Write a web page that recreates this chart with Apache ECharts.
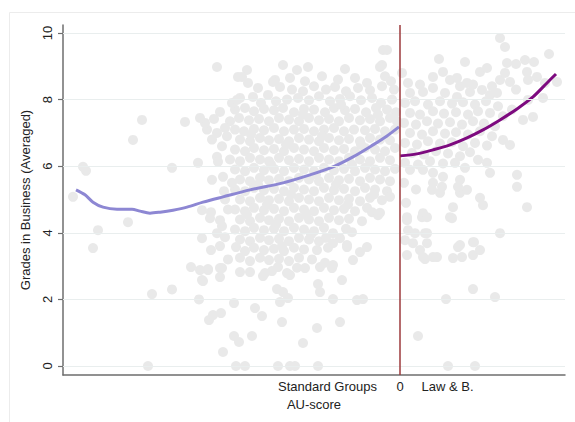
<!DOCTYPE html>
<html>
<head>
<meta charset="utf-8">
<script src="https://cdn.jsdelivr.net/npm/echarts@6/dist/echarts.min.js"></script>
<style>
html,body{margin:0;padding:0;background:#fff;}
#c{width:575px;height:422px;}
</style>
</head>
<body>
<div id="c"></div>
<script>
// ---- data ----
var yTicks = [0, 2, 4, 6, 8, 10];
var xLabelText = ['Standard Groups', '0', 'Law & B.'];
var xLabelPos = [-7.25, 0, 4.75];
var cutoff = 0;

var leftFitX = [-32.4,-31.5,-30.7,-29.7,-28.3,-26.8,-26.0,-25.0,-24.0,-22.7,-21.3,-19.7,-17.7,-15.0,-11.7,-9.0,-6.7,-4.7,-2.7,-1.3,-0.1];
var leftFitY = [5.29,5.14,4.92,4.77,4.71,4.71,4.65,4.59,4.62,4.68,4.77,4.92,5.08,5.29,5.50,5.74,5.98,6.28,6.64,6.91,7.18];
var rightFitX = [0,1.7,3.3,5.0,6.7,8.3,10.0,11.7,13.3,14.7,15.6];
var rightFitY = [6.31,6.37,6.49,6.64,6.85,7.09,7.39,7.72,8.08,8.50,8.77];

// scattered observations, standard groups (AU-score < 0)
var leftOuter = [
[-32.7,5.08],[-31.7,5.98],[-31.4,5.86],[-30.2,4.08],[-30.7,3.54],[-27.2,4.32],[-26.7,6.79],[-25.8,7.39],
[-25.2,0],[-24.8,2.16],[-22.8,2.3],[-22.8,5.95],[-21.5,7.33],[-20.2,6.1],[-20.9,2.97],[-20.1,2.0],
[-18.3,8.98],[-15.3,8.89],[-11.7,9.04],[-10.3,8.89],[-9.2,8.98],[-5.5,8.92],[-1.7,9.49],[-1.3,9.49],[-1.8,9.04],[-2,8.98],
[-15.8,8.68],[-15.2,8.5],[-12.7,8.53],[-16.3,7.99],[-16.2,8.68],[-14.2,8.35],[-12,8.38],
[-19.1,1.38],[-18.7,1.53],[-17.9,1.59],[-17.7,0.42],[-16.6,0.9],[-16.1,0.72],[-14.8,0.9],[-16.6,1.89],[-16.4,0],[-15.5,0],
[-14.5,1.74],[-13.8,1.5],[-11.8,1.32],[-12.2,0],[-11,0],[-10.5,0],[-8.2,0],[-9.7,0.69],[-8.3,1.14],[-6,1.32],
[-12.3,2.31],[-11.7,2.22],[-11.2,2.04],[-12,1.92],[-6.7,2.01],[-4.3,1.98],[-3.7,2.01],[-8.2,2.46],[-8,2.22],[-5.8,2.58],
[-20,2.88],[-19.8,2.58],[-19.2,2.88],[-18,2.94],[-18,2.67],[-16,2.82],[-15,2.82],[-13.5,2.79],[-12.2,2.97],[-11,2.73],
[-11.3,2.79],[-9.5,2.94],[-8,2.97],[-6.8,2.94],[-8.3,3.48],[-6.7,3.69],[-5.3,3.63],[-4.7,3.18],[-4,3.42],[-3.3,3.57],
[-6,3.84],[-5.3,3.57],[-6.7,3.03],[-4.8,4.02],[-6.7,3.99],[-2.8,4.62],[-2.2,4.53],[-1,5.08],[-19.8,3.84],[-18.9,3.48],[-18,3.6],
[-19.5,7.3],[-18,7.63],[-18.6,7.42],[-20,7.45],[-18.3,6.28],[-18.2,6.13],[-18.8,5.59],[-17.7,5.68],[-16.8,5.5],
[-19.8,4.68],[-18.9,4.62],[-19,4.44],[-18,4.38],[-18.3,3.99],[-17.5,3.87],[-16.4,3.57],[-19.2,2.91],[-17.8,2.94],[-19.7,2.55]
];

// dense body of standard groups
var leftCore = [
[-12.5,8.59],[-11,8.65],[-9.5,8.55],[-7.8,8.7],[-6.2,8.6],[-4.5,8.65],[-3.3,8.5],[-1.5,8.7],
[-10.8,8.3],[-9.7,8.25],[-8.6,8.4],[-7.4,8.3],[-6.5,8.38],[-5.4,8.25],[-4.2,8.35],[-3,8.28],[-1.8,8.4],[-0.6,8.3],
[-16,8.05],[-14.7,8.08],[-13.2,8.14],[-12.4,7.95],[-11.3,8.0],[-10.2,8.05],[-9.1,7.98],[-8.1,8.1],[-7.0,7.95],[-6.0,8.02],[-5.0,8.1],[-3.9,7.98],[-2.8,8.05],[-1.9,7.9],[-0.8,8.0],
[-16.5,7.7],[-15.5,7.75],[-14.6,7.65],[-13.6,7.72],[-12.6,7.68],[-11.7,7.75],[-10.6,7.62],[-9.6,7.72],[-8.6,7.7],[-7.5,7.62],[-6.6,7.75],[-5.5,7.68],[-4.5,7.72],[-3.4,7.62],[-2.4,7.75],[-1.3,7.7],[-0.4,7.62],
[-17.0,7.35],[-16.1,7.45],[-15.1,7.38],[-14.1,7.42],[-13.1,7.35],[-12.1,7.45],[-11.1,7.4],[-10.1,7.35],[-9.1,7.45],[-8.1,7.38],[-7.1,7.42],[-6.1,7.35],[-5.1,7.45],[-4.0,7.38],[-3.0,7.42],[-2.0,7.35],[-1.0,7.45],
[-19.3,7.1],[-18.3,7.0],[-17.5,7.15],[-16.5,7.1],[-15.6,7.05],[-14.6,7.12],[-13.6,7.08],[-12.6,7.15],[-11.6,7.05],[-10.6,7.1],[-9.6,7.12],[-8.6,7.05],[-7.6,7.1],[-6.6,7.15],[-5.6,7.05],[-4.6,7.1],[-3.5,7.08],[-2.5,7.12],[-1.5,7.05],[-0.5,7.1],
[-18.8,6.8],[-17.3,6.9],[-17.8,6.6],[-16.0,6.8],[-15.0,6.75],[-14.0,6.85],[-13.1,6.78],[-12.1,6.82],[-11.1,6.75],[-10.1,6.85],[-9.1,6.8],[-8.1,6.75],[-7.1,6.85],[-6.1,6.78],[-5.1,6.82],[-4.0,6.75],[-3.0,6.85],[-2.0,6.8],[-1.0,6.78],
[-16.5,6.5],[-15.5,6.45],[-14.6,6.55],[-13.6,6.48],[-12.6,6.52],[-11.6,6.45],[-10.6,6.55],[-9.6,6.5],[-8.6,6.45],[-7.6,6.55],[-6.6,6.48],[-5.6,6.52],[-4.5,6.45],[-3.5,6.55],[-2.5,6.5],[-1.5,6.45],[-0.5,6.55],
[-17,6.2],[-16.0,6.15],[-15.0,6.25],[-14.0,6.2],[-13.1,6.15],[-12.1,6.25],[-11.1,6.18],[-10.1,6.22],[-9.1,6.15],[-8.1,6.25],[-7.1,6.2],[-6.1,6.15],[-5.1,6.25],[-4.0,6.2],[-3.0,6.15],[-2.0,6.25],[-1.0,6.18],
[-16.5,5.9],[-15.5,5.85],[-14.6,5.95],[-13.6,5.88],[-12.6,5.92],[-11.6,5.85],[-10.6,5.95],[-9.6,5.9],[-8.6,5.85],[-7.6,5.95],[-6.6,5.88],[-5.6,5.92],[-4.5,5.85],[-3.5,5.95],[-2.5,5.9],[-1.5,5.85],[-0.5,5.92],
[-16.0,5.6],[-15.0,5.55],[-14.0,5.65],[-13.1,5.58],[-12.1,5.62],[-11.1,5.55],[-10.1,5.65],[-9.1,5.6],[-8.1,5.55],[-7.1,5.65],[-6.1,5.58],[-5.1,5.62],[-4.0,5.55],[-3.0,5.65],[-2.0,5.6],[-1.0,5.55],
[-16.5,5.3],[-15.5,5.25],[-14.6,5.35],[-13.6,5.28],[-12.6,5.32],[-11.6,5.25],[-10.6,5.35],[-9.6,5.3],[-8.6,5.25],[-7.6,5.35],[-6.6,5.28],[-5.6,5.32],[-4.5,5.25],[-3.5,5.35],[-2.5,5.3],[-1.3,5.25],
[-17.5,5.0],[-16.0,5.0],[-15.0,4.95],[-14.0,5.05],[-13.1,4.98],[-12.1,5.02],[-11.1,4.95],[-10.1,5.05],[-9.1,5.0],[-8.1,4.95],[-7.1,5.05],[-6.1,4.98],[-5.1,5.02],[-4.0,4.95],[-3.0,5.05],[-1.8,4.98],
[-17.2,4.7],[-16.5,4.7],[-15.5,4.65],[-14.6,4.75],[-13.6,4.68],[-12.6,4.72],[-11.6,4.65],[-10.6,4.75],[-9.6,4.7],[-8.6,4.65],[-7.6,4.75],[-6.6,4.68],[-5.6,4.72],[-4.5,4.65],[-3.3,4.75],[-2.0,4.6],
[-16.0,4.4],[-15.0,4.35],[-14.0,4.45],[-13.1,4.38],[-12.1,4.42],[-11.1,4.35],[-10.1,4.45],[-9.1,4.4],[-8.1,4.35],[-7.1,4.45],[-6.1,4.38],[-5.1,4.42],[-3.8,4.35],
[-16.5,4.1],[-15.5,4.05],[-14.6,4.15],[-13.6,4.08],[-12.6,4.12],[-11.6,4.05],[-10.6,4.15],[-9.6,4.1],[-8.6,4.05],[-7.6,4.15],[-5.4,4.12],
[-16.0,3.8],[-15.0,3.75],[-14.0,3.85],[-13.1,3.78],[-12.1,3.82],[-11.1,3.75],[-10.1,3.85],[-9.1,3.8],[-8.1,3.75],
[-15.5,3.45],[-14.6,3.55],[-13.6,3.48],[-12.6,3.52],[-11.6,3.45],[-10.6,3.55],[-9.6,3.5],[-7.2,3.55],
[-17.2,3.2],[-16,3.25],[-15.0,3.15],[-14.0,3.25],[-13.1,3.18],[-12.1,3.22],[-11.1,3.15],[-10.1,3.25],[-8.8,3.2],[-7.5,3.1],
[-13.7,2.7],[-12.8,2.85],[-10.3,2.95],
[-13.9,7.9],[-9.7,7.55],[-5.9,7.85],[-2.2,7.55],[-14.9,6.95],[-11.4,6.65],[-7.8,6.9],[-3.9,6.65],[-12.9,6.05],[-8.4,5.75],
[-4.8,6.05],[-14.2,5.45],[-10.9,5.15],[-6.4,5.45],[-2.6,5.15],[-13.3,4.85],[-9.4,4.55],[-5.2,4.85],[-12.4,4.25],[-8.9,3.95],
[-15.3,4.55],[-1.4,6.95],[-0.3,7.35],[-0.9,8.55],[-17.6,5.25],[-17.8,4.2],[-16.8,7.9],[-7.4,3.85],[-11.8,3.6]
];

// observations, Law & Business (AU-score >= 0)
var rightObs = [
[10,9.85],[10.5,9.58],[14.9,9.37],[3.9,9.22],[6.5,9.13],[10.7,9.1],[11.6,9.07],[12.5,9.19],[13.4,9.13],[0.2,8.8],
[3.3,8.68],[4.3,8.83],[5,8.59],[5.7,8.65],[6.7,8.5],[8,8.83],[8.7,8.95],[10,8.59],[10.5,8.8],[11,8.53],[12.7,8.83],[12.8,8.59],[13.7,8.68],[14.5,8.5],[15.7,8.53],
[1,8.2],[2.3,8.23],[3.3,8.35],[4.5,8.2],[5.7,8.08],[7,8.23],[8.2,8.29],[9,8.14],[9.7,8.2],[12.8,7.99],[14.3,8.05],
[0.8,8.5],[2.0,8.45],[6.0,8.4],[7.3,8.45],[9.2,8.4],[11.6,8.3],
[0.5,7.9],[1.5,7.95],[2.8,7.85],[4.0,7.95],[5.2,7.88],[6.3,7.92],[7.5,7.85],[8.6,7.95],[9.8,7.8],[11.2,7.7],
[1.0,7.6],[2.0,7.55],[3.3,7.65],[4.4,7.58],[5.6,7.62],[6.8,7.55],[7.8,7.65],[9.0,7.6],[10.3,7.5],[12.3,7.39],[13.3,7.48],
[0.4,7.3],[1.6,7.25],[2.7,7.35],[3.8,7.28],[5.0,7.32],[6.2,7.25],[7.3,7.35],[8.4,7.28],[9.5,7.2],
[1.0,7.0],[2.2,6.95],[3.3,7.05],[4.5,6.98],[5.6,7.02],[6.8,6.95],[8.0,7.05],[9.2,6.9],[10.3,6.79],[11,6.64],
[0.5,6.7],[1.7,6.65],[2.8,6.75],[4.0,6.68],[5.2,6.72],[6.3,6.6],[7.5,6.7],[8.7,6.62],
[1.2,6.4],[2.4,6.35],[3.6,6.45],[4.8,6.38],[6.0,6.3],[7.0,6.42],[7.8,6.19],[8.7,6.1],
[0.5,6.1],[1.8,6.05],[3.0,6.15],[4.3,6.08],[5.5,6.1],[6.5,5.95],
[1,5.89],[2.3,5.89],[3.3,5.8],[3.3,5.5],[4.3,5.68],[4.2,5.38],[3.2,5.29],[4,5.2],[6,5.59],[6,5.2],[5.8,5.38],[6.7,5.29],[0.4,5.5],[1.6,5.3],
[9,5.8],[11.7,5.74],[11.7,5.38],[12.7,4.77],[8,5.05],[8.3,4.83],[5.3,4.77],[5.2,4.44],[0.6,4.9],
[2.3,4.59],[2.2,4.47],[0.7,4.38],[0.8,4.08],[0.5,3.78],[1.5,3.99],[2.5,3.99],[0.7,4.47],[2.7,4.47],[5,4.47],
[1.3,3.69],[2.7,3.69],[2,3.48],[2.7,3.99],[2.3,3.27],[3.7,3.27],[5.3,3.24],[6.2,3.27],[7.3,3.33],[8,3.48],[7.3,3.72],[6,3.63],
[0.7,3.33],[2.5,3.21],[3.3,3.27],[5.8,3.57],[7.4,3.72],[10,3.99],
[7.3,2.31],[4.6,2.01],[9.5,2.07],[1.8,0.9],[4.8,0],[7.5,0]
];

var chart = echarts.init(document.getElementById('c'), null, {renderer: 'svg'});
var font = "'Liberation Sans', Arial, Helvetica, sans-serif";

var option = {
  backgroundColor: '#ffffff',
  animation: false,
  graphic: [{
    type: 'rect', left: 7, top: 10, z: -10,
    shape: {width: 580, height: 410},
    style: {fill: 'none', stroke: '#ececec', lineWidth: 1}
  }],
  grid: {left: 63, right: 10, top: 25, bottom: 47, containLabel: false, outerBoundsMode: 'none'},
  xAxis: {
    type: 'value', min: -33.7, max: 16.5,
    name: 'AU-score', nameLocation: 'middle', nameGap: 22,
    nameTextStyle: {fontFamily: font, fontSize: 13, color: '#222'},
    axisLine: {show: true, onZero: false, lineStyle: {color: '#6e6e6e', width: 1.5}},
    axisTick: {show: false},
    splitLine: {show: false},
    axisLabel: {
      show: true, customValues: xLabelPos, margin: 5,
      fontFamily: font, fontSize: 13, color: '#222',
      formatter: function (v) {
        for (var i = 0; i < xLabelPos.length; i++) {
          if (Math.abs(v - xLabelPos[i]) < 0.01) return xLabelText[i];
        }
        return '';
      }
    }
  },
  yAxis: {
    type: 'value', min: -0.27, max: 10.24,
    name: 'Grades in Business (Averaged)', nameLocation: 'middle', nameGap: 31, nameRotate: 90,
    nameTextStyle: {fontFamily: font, fontSize: 13, color: '#222'},
    axisLine: {show: true, onZero: false, lineStyle: {color: '#6e6e6e', width: 1.5}},
    axisTick: {show: true, customValues: yTicks, length: 5, lineStyle: {color: '#6e6e6e', width: 1.2}},
    splitLine: {show: false},
    axisLabel: {
      show: true, customValues: yTicks, rotate: 90, margin: 9,
      fontFamily: font, fontSize: 13, color: '#222'
    }
  },
  series: [
    {
      type: 'line', data: [], z: 1, silent: true,
      markLine: {
        silent: true, symbol: 'none', animation: false, label: {show: false},
        lineStyle: {color: '#e9eeee', width: 1, type: 'solid'},
        data: yTicks.map(function (t) { return {yAxis: t}; })
      }
    },
    {
      type: 'line', data: [], z: 2, silent: true,
      markLine: {
        silent: true, symbol: 'none', animation: false, label: {show: false},
        lineStyle: {color: '#9c3a3c', width: 1.5, type: 'solid'},
        data: [{xAxis: cutoff}]
      }
    },
    {
      type: 'scatter', z: 3, symbolSize: 10, silent: true,
      itemStyle: {color: '#e9e9e9', opacity: 1},
      data: leftCore.concat(leftOuter).concat(rightObs)
    },
    {
      type: 'line', z: 4, smooth: 0.3, showSymbol: false, silent: true,
      lineStyle: {color: '#8d87d3', width: 3},
      data: leftFitX.map(function (x, i) { return [x, leftFitY[i]]; })
    },
    {
      type: 'line', z: 4, smooth: 0.3, showSymbol: false, silent: true,
      lineStyle: {color: '#7d0a7f', width: 3},
      data: rightFitX.map(function (x, i) { return [x, rightFitY[i]]; })
    }
  ]
};
chart.setOption(option);
</script>
</body>
</html>
